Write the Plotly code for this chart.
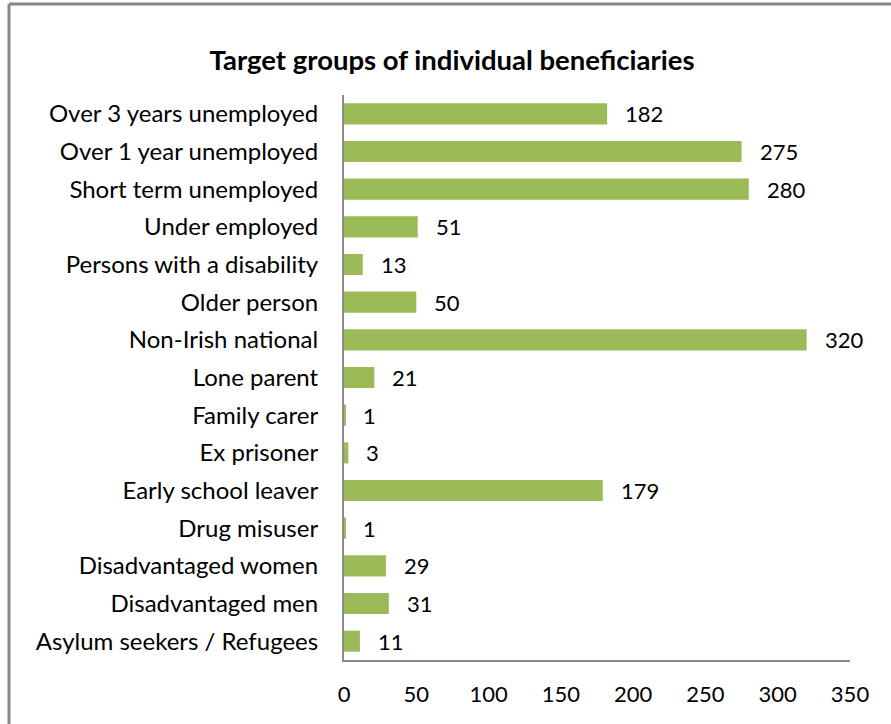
import plotly.graph_objects as go

categories = [
    "Over 3 years unemployed",
    "Over 1 year unemployed",
    "Short term unemployed",
    "Under employed",
    "Persons with a disability",
    "Older person",
    "Non-Irish national",
    "Lone parent",
    "Family carer",
    "Ex prisoner",
    "Early school leaver",
    "Drug misuser",
    "Disadvantaged women",
    "Disadvantaged men",
    "Asylum seekers / Refugees",
]
values = [182, 275, 280, 51, 13, 50, 320, 21, 1, 3, 179, 1, 29, 31, 11]
x_ticks = [0, 50, 100, 150, 200, 250, 300, 350]

FONT = "Lato"
BAR_COLOR = "#9BBB59"
AXIS_COLOR = "#8C8C8C"
FRAME_COLOR = "#878787"

# plot-area geometry in pixels
L, R, T, B = 344, 850, 95, 660
W, H = R - L, B - T

fig = go.Figure()
fig.add_trace(go.Bar(
    x=values,
    y=categories,
    orientation="h",
    marker=dict(color=BAR_COLOR, line=dict(width=0)),
    width=0.56,
    hoverinfo="skip",
))

# value labels to the right of each bar
for cat, val in zip(categories, values):
    fig.add_annotation(
        x=val, y=cat, xref="x", yref="y",
        text=str(val), showarrow=False,
        xanchor="left", yanchor="middle", xshift=16,
        font=dict(family=FONT, size=22, color="#000000"),
    )

# outer frame (top and left edges)
frame_top = 1 + (T - 4) / H
frame_left = (9 - L) / W
fig.add_shape(type="line", xref="paper", yref="paper",
              x0=frame_left, x1=(891 - L) / W + 0.02, y0=frame_top, y1=frame_top,
              line=dict(color=FRAME_COLOR, width=3))
fig.add_shape(type="line", xref="paper", yref="paper",
              x0=frame_left, x1=frame_left, y0=-0.2, y1=frame_top,
              line=dict(color=FRAME_COLOR, width=3))

fig.update_layout(
    width=891, height=724,
    margin=dict(l=L, r=891 - R, t=T, b=724 - B),
    paper_bgcolor="white", plot_bgcolor="white",
    showlegend=False,
    title=dict(
        text="<b>Target groups of individual beneficiaries</b>",
        x=452 / 891, xanchor="center", y=1 - 60 / 724, yanchor="middle",
        font=dict(family=FONT, size=27.5, color="#000000"),
    ),
    font=dict(family=FONT, size=22, color="#000000"),
)
fig.update_xaxes(
    range=[0, 350], tickvals=x_ticks, ticktext=[str(t) for t in x_ticks],
    showgrid=False, zeroline=False,
    showline=True, linecolor=AXIS_COLOR, linewidth=2,
    ticks="", ticklen=0, ticklabelstandoff=14,
    tickfont=dict(family=FONT, size=22, color="#000000"),
    automargin=False,
)
fig.update_yaxes(
    categoryorder="array", categoryarray=categories,
    autorange=False, range=[len(categories) - 0.5, -0.5],
    showgrid=False, zeroline=False,
    showline=True, linecolor=AXIS_COLOR, linewidth=2,
    ticks="", ticklen=0, ticklabelstandoff=19,
    tickfont=dict(family=FONT, size=24, color="#000000"),
    automargin=False,
)

fig.write_html("out.html")
